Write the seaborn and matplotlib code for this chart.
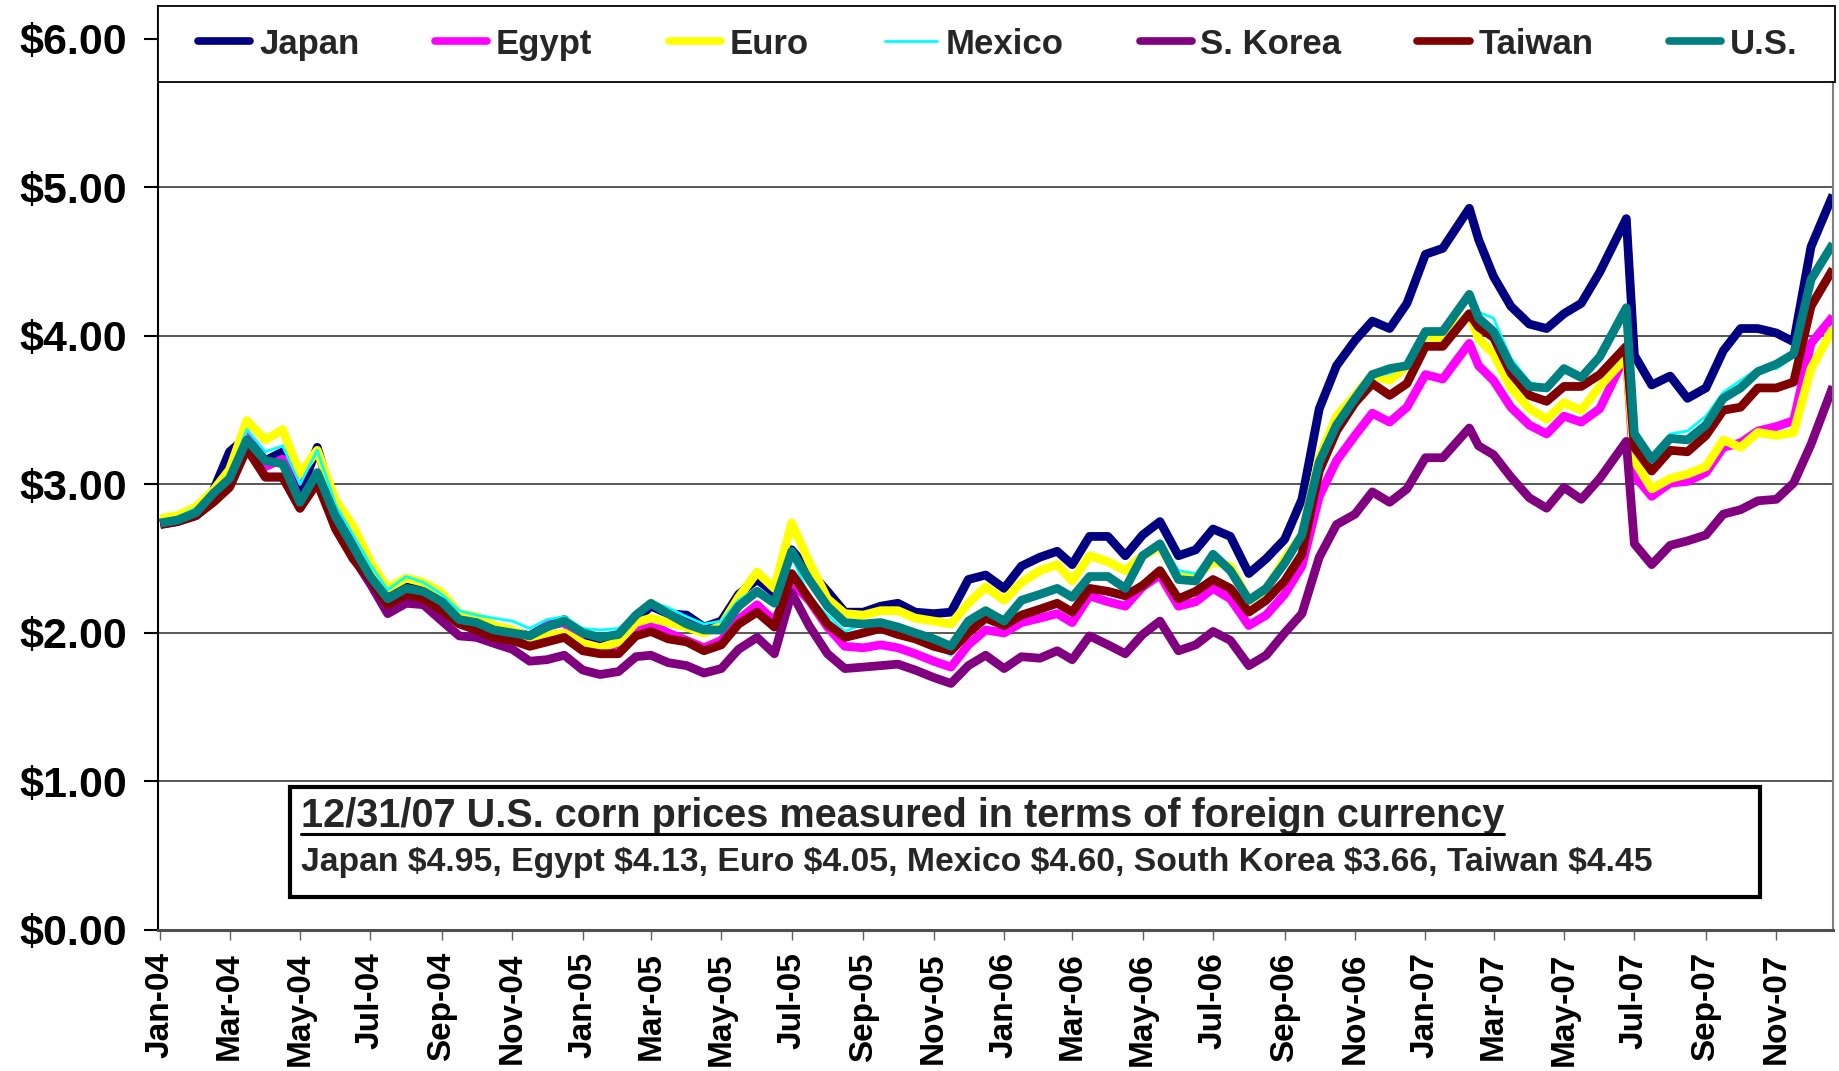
import matplotlib
matplotlib.use('Agg')
import matplotlib.pyplot as plt
import matplotlib.dates as mdates
from matplotlib.patches import Rectangle
from matplotlib.lines import Line2D
from matplotlib.ticker import FuncFormatter, FixedLocator
import seaborn as sns
import pandas as pd

# ---------------- data (semi-monthly readings, Jan-2004 .. Dec-2007) ----------------
dates = []
for yr in range(2004, 2008):
    for mo in range(1, 13):
        dates.append(pd.Timestamp(yr, mo, 1))
        dates.append(pd.Timestamp(yr, mo, 16))
dates[-1] = pd.Timestamp(2007, 12, 20)
# reading dates of the two 2007 peaks
date_shift = {pd.Timestamp(2007, 2, 1): pd.Timestamp(2007, 2, 8),
              pd.Timestamp(2007, 6, 16): pd.Timestamp(2007, 6, 24)}
dates = [date_shift.get(d, d) for d in dates]

japan = [
    2.74, 2.77, 2.82, 2.96, 3.22, 3.32, 3.16, 3.22, 2.94, 3.25, 2.82, 2.60, 2.40, 2.24, 2.31, 2.29, 2.22, 2.11, 2.10, 2.04, 2.01, 1.98, 2.05, 2.09,
    1.96, 1.91, 1.95, 2.09, 2.18, 2.13, 2.12, 2.04, 2.08, 2.26, 2.36, 2.27, 2.56, 2.42, 2.28, 2.14, 2.14, 2.18, 2.20, 2.14, 2.13, 2.14, 2.36, 2.39,
    2.30, 2.45, 2.51, 2.55, 2.46, 2.65, 2.65, 2.52, 2.66, 2.75, 2.52, 2.56, 2.70, 2.65, 2.40, 2.50, 2.63, 2.90, 3.51, 3.80, 3.97, 4.10, 4.05, 4.22,
    4.55, 4.59, 4.86, 4.65, 4.40, 4.20, 4.08, 4.05, 4.15, 4.22, 4.43, 4.79, 3.87, 3.67, 3.73, 3.58, 3.65, 3.90, 4.05, 4.05, 4.02, 3.96, 4.60, 4.95,
]
egypt = [
    2.74, 2.76, 2.81, 2.93, 3.02, 3.32, 3.12, 3.17, 2.88, 3.05, 2.74, 2.55, 2.34, 2.20, 2.27, 2.25, 2.17, 2.08, 2.05, 2.01, 1.99, 1.96, 2.05, 2.07,
    1.93, 1.90, 1.92, 2.02, 2.06, 2.00, 1.95, 1.90, 1.95, 2.09, 2.19, 2.08, 2.34, 2.22, 2.04, 1.91, 1.90, 1.92, 1.90, 1.86, 1.81, 1.77, 1.92, 2.02,
    2.00, 2.07, 2.10, 2.13, 2.07, 2.25, 2.21, 2.18, 2.31, 2.39, 2.18, 2.21, 2.30, 2.23, 2.05, 2.12, 2.26, 2.45, 2.92, 3.16, 3.33, 3.48, 3.42, 3.52,
    3.74, 3.71, 3.95, 3.80, 3.70, 3.52, 3.40, 3.34, 3.46, 3.42, 3.51, 3.88, 3.06, 2.92, 3.01, 3.02, 3.08, 3.25, 3.28, 3.36, 3.39, 3.43, 3.95, 4.13,
]
euro = [
    2.77, 2.79, 2.85, 2.96, 3.10, 3.43, 3.30, 3.37, 3.07, 3.23, 2.89, 2.72, 2.48, 2.30, 2.37, 2.34, 2.27, 2.13, 2.11, 2.05, 2.02, 1.97, 1.98, 2.00,
    1.93, 1.90, 1.94, 2.07, 2.10, 2.07, 2.04, 2.00, 2.05, 2.24, 2.41, 2.30, 2.74, 2.48, 2.23, 2.13, 2.12, 2.15, 2.15, 2.10, 2.08, 2.06, 2.20, 2.31,
    2.22, 2.34, 2.42, 2.46, 2.35, 2.52, 2.48, 2.42, 2.52, 2.58, 2.38, 2.38, 2.48, 2.45, 2.22, 2.29, 2.50, 2.66, 3.18, 3.46, 3.60, 3.74, 3.70, 3.80,
    4.00, 3.98, 4.15, 3.98, 3.88, 3.65, 3.51, 3.44, 3.55, 3.50, 3.66, 3.86, 3.16, 2.97, 3.04, 3.07, 3.12, 3.30, 3.25, 3.35, 3.33, 3.35, 3.78, 4.05,
]
mexico = [
    2.76, 2.78, 2.84, 2.95, 3.06, 3.37, 3.22, 3.26, 3.00, 3.23, 2.86, 2.66, 2.46, 2.29, 2.38, 2.34, 2.26, 2.15, 2.12, 2.10, 2.08, 2.03, 2.09, 2.11,
    2.03, 2.02, 2.03, 2.13, 2.21, 2.17, 2.11, 2.06, 2.08, 2.22, 2.30, 2.22, 2.52, 2.24, 2.12, 2.01, 2.06, 2.07, 2.02, 1.97, 1.91, 1.85, 2.05, 2.15,
    2.10, 2.20, 2.25, 2.29, 2.23, 2.38, 2.39, 2.32, 2.52, 2.62, 2.42, 2.40, 2.55, 2.44, 2.23, 2.30, 2.47, 2.66, 3.16, 3.40, 3.57, 3.73, 3.75, 3.80,
    4.02, 4.03, 4.28, 4.16, 4.12, 3.85, 3.69, 3.65, 3.80, 3.74, 3.88, 4.19, 3.38, 3.20, 3.34, 3.36, 3.46, 3.62, 3.70, 3.78, 3.78, 3.86, 4.35, 4.60,
]
s_korea = [
    2.73, 2.75, 2.79, 2.89, 2.99, 3.26, 3.05, 3.05, 2.84, 3.04, 2.70, 2.51, 2.33, 2.13, 2.20, 2.19, 2.08, 1.98, 1.97, 1.93, 1.89, 1.81, 1.82, 1.85,
    1.75, 1.72, 1.74, 1.84, 1.85, 1.80, 1.78, 1.73, 1.76, 1.89, 1.97, 1.86, 2.27, 2.05, 1.86, 1.76, 1.77, 1.78, 1.79, 1.75, 1.70, 1.66, 1.78, 1.85,
    1.76, 1.84, 1.83, 1.88, 1.82, 1.98, 1.92, 1.86, 1.99, 2.08, 1.88, 1.92, 2.01, 1.95, 1.78, 1.85, 2.00, 2.13, 2.51, 2.73, 2.80, 2.95, 2.88, 2.97,
    3.18, 3.18, 3.38, 3.26, 3.20, 3.05, 2.91, 2.84, 2.98, 2.90, 3.04, 3.29, 2.60, 2.46, 2.59, 2.62, 2.66, 2.80, 2.83, 2.89, 2.90, 3.01, 3.27, 3.66,
]
taiwan = [
    2.73, 2.75, 2.79, 2.88, 2.98, 3.24, 3.05, 3.05, 2.84, 3.01, 2.70, 2.50, 2.36, 2.19, 2.26, 2.23, 2.15, 2.06, 2.02, 1.97, 1.95, 1.91, 1.94, 1.97,
    1.88, 1.86, 1.86, 1.98, 2.01, 1.96, 1.94, 1.88, 1.92, 2.06, 2.14, 2.04, 2.40, 2.23, 2.06, 1.97, 2.00, 2.03, 1.99, 1.96, 1.91, 1.88, 2.00, 2.10,
    2.05, 2.12, 2.16, 2.20, 2.14, 2.30, 2.28, 2.25, 2.32, 2.42, 2.23, 2.28, 2.36, 2.30, 2.14, 2.22, 2.35, 2.53, 3.09, 3.36, 3.55, 3.68, 3.60, 3.68,
    3.93, 3.93, 4.15, 4.06, 3.99, 3.75, 3.60, 3.56, 3.66, 3.66, 3.74, 3.93, 3.25, 3.09, 3.23, 3.22, 3.33, 3.50, 3.52, 3.65, 3.65, 3.69, 4.20, 4.45,
]
us = [
    2.74, 2.76, 2.81, 2.94, 3.04, 3.30, 3.16, 3.14, 2.88, 3.08, 2.78, 2.58, 2.38, 2.23, 2.30, 2.28, 2.21, 2.09, 2.07, 2.02, 2.00, 1.98, 2.04, 2.08,
    2.00, 1.97, 1.99, 2.12, 2.20, 2.13, 2.06, 2.02, 2.02, 2.18, 2.28, 2.20, 2.55, 2.36, 2.18, 2.07, 2.06, 2.07, 2.04, 2.00, 1.96, 1.91, 2.08, 2.15,
    2.08, 2.22, 2.26, 2.30, 2.24, 2.38, 2.38, 2.30, 2.52, 2.60, 2.36, 2.35, 2.53, 2.42, 2.22, 2.30, 2.47, 2.66, 3.15, 3.40, 3.58, 3.74, 3.78, 3.80,
    4.03, 4.03, 4.28, 4.12, 4.03, 3.80, 3.66, 3.65, 3.78, 3.72, 3.86, 4.19, 3.34, 3.17, 3.31, 3.30, 3.40, 3.58, 3.65, 3.76, 3.81, 3.88, 4.38, 4.62,
]

series_names = ['Japan', 'Egypt', 'Euro', 'Mexico', 'S. Korea', 'Taiwan', 'U.S.']
series_values = [japan, egypt, euro, mexico, s_korea, taiwan, us]
series_colors = ['#000080', '#FF00FF', '#FFFF00', '#00FFFF', '#800080', '#800000', '#008080']
series_widths = [6.3, 6.3, 6.3, 2.0, 6.3, 6.3, 6.3]

y_ticks = [0, 1, 2, 3, 4, 5, 6]
box_title = '12/31/07 U.S. corn prices measured in terms of foreign currency'
box_line = r'Japan \$4.95, Egypt \$4.13, Euro \$4.05, Mexico \$4.60, South Korea \$3.66, Taiwan \$4.45'

# ---------------- style ----------------
sns.set_style('white')
plt.rcParams['font.family'] = ['Liberation Sans', 'DejaVu Sans']
plt.rcParams['font.weight'] = 'bold'

fig = plt.figure(figsize=(18.39, 10.71), dpi=100)
ax = fig.add_axes([0.0859, 0.1317, 0.9108, 0.8627])

for name, vals, col, lw in zip(series_names, series_values, series_colors, series_widths):
    sns.lineplot(x=dates, y=vals, color=col, linewidth=lw, ax=ax, label=name,
                 solid_joinstyle='round', solid_capstyle='butt', estimator=None)
if ax.get_legend() is not None:
    ax.get_legend().remove()

ax.set_xlabel('')
ax.set_ylabel('')
ax.set_ylim(0, 6.222)
ax.set_xlim(pd.Timestamp(2003, 12, 30), pd.Timestamp(2007, 12, 20))

ax.yaxis.set_major_locator(FixedLocator(y_ticks))
ax.yaxis.set_major_formatter(FuncFormatter(lambda v, p: r'\$%.2f' % v))
ax.xaxis.set_major_locator(mdates.MonthLocator(bymonth=[1, 3, 5, 7, 9, 11]))
ax.xaxis.set_major_formatter(mdates.DateFormatter('%b-%y'))

ax.tick_params(axis='y', left=True, direction='out', length=10, width=1.5,
               pad=12, labelsize=31, colors='black')
ax.tick_params(axis='x', bottom=True, direction='out', length=7, width=1,
               pad=9, labelsize=24, labelrotation=90, color='#606060', labelcolor='black')
for lab in ax.get_xticklabels() + ax.get_yticklabels():
    lab.set_fontweight('bold')

ax.yaxis.grid(True, color='#4a4a4a', linewidth=1.3)
ax.xaxis.grid(False)
ax.set_axisbelow(True)

ax.spines['top'].set_visible(False)
ax.spines['left'].set_color('black')
ax.spines['left'].set_linewidth(1.5)
ax.spines['bottom'].set_color('#505050')
ax.spines['bottom'].set_linewidth(2.2)
ax.spines['right'].set_color('#808080')
ax.spines['right'].set_linewidth(1.5)

# legend box across the top
ax.add_patch(Rectangle((0, 0.9177), 1.001, 0.0823, transform=ax.transAxes,
                       facecolor='white', edgecolor='black', linewidth=1.3,
                       zorder=5, clip_on=False))
handles = [Line2D([0], [0], color=c, linewidth=min(w, 5.5)) for c, w in zip(series_colors, series_widths)]
leg = ax.legend(handles, series_names, loc='center', ncol=7, mode='expand',
                bbox_to_anchor=(0.024, 0.9177, 0.955, 0.0823), frameon=False,
                borderaxespad=0, borderpad=0, handlelength=1.5, handletextpad=0.25,
                prop={'size': 25, 'weight': 'bold'})
leg.set_zorder(6)

# annotation box
ax.add_patch(Rectangle((0.0788, 0.0357), 0.8776, 0.1191, transform=ax.transAxes,
                       facecolor='white', edgecolor='black', linewidth=3.0, zorder=6))
t1 = ax.text(0.0854, 0.1115, box_title, transform=ax.transAxes, fontsize=28.5,
             fontweight='bold', ha='left', va='baseline', zorder=7)
t2 = ax.text(0.0854, 0.0639, box_line, transform=ax.transAxes, fontsize=24.3,
             fontweight='bold', ha='left', va='baseline', zorder=7)

fig.canvas.draw()
bb = t1.get_window_extent().transformed(fig.transFigure.inverted())
fig.add_artist(Line2D([bb.x0, bb.x1], [bb.y0 + 0.001, bb.y0 + 0.001], color='black',
                      linewidth=2.2, transform=fig.transFigure, zorder=8))

fig.savefig('out.png', dpi=100)
